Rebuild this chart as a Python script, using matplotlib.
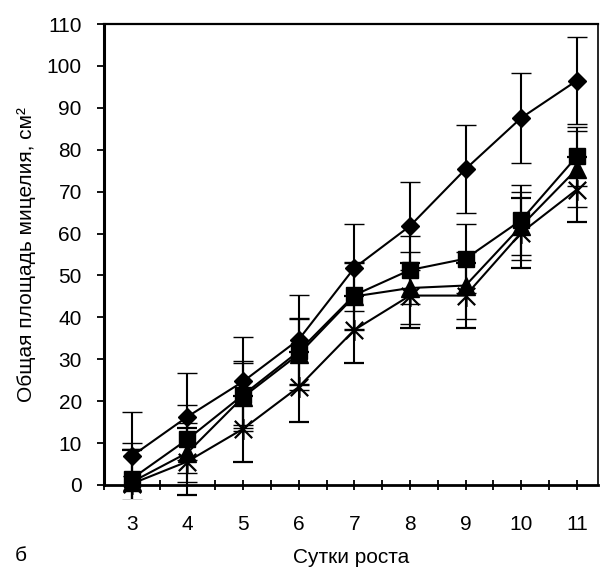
import numpy as np
import matplotlib.pyplot as plt
from matplotlib.path import Path
from matplotlib.patches import Rectangle

plt.rcParams['font.family'] = ['Liberation Sans', 'DejaVu Sans']

days = [3, 4, 5, 6, 7, 8, 9, 10, 11]

romb = [6.9, 16.3, 24.7, 34.7, 51.8, 61.8, 75.4, 87.6, 96.5]
romb_err = [10.4, 10.4, 10.5, 10.6, 10.4, 10.4, 10.5, 10.8, 10.4]

kvadrat = [1.5, 10.9, 21.5, 31.9, 45.3, 51.3, 54.0, 63.2, 78.4]
kvadrat_err = [8.5, 8.1, 8.0, 8.0, 8.0, 8.1, 8.2, 8.4, 7.0]

treug = [0.7, 7.7, 21.0, 31.2, 45.0, 47.0, 47.6, 61.8, 75.4]
treug_err = [8.0, 7.0, 8.0, 8.5, 8.0, 8.5, 8.0, 8.2, 9.0]

zvezda = [0.3, 5.6, 13.4, 23.4, 37.0, 45.2, 45.2, 60.2, 70.5]
zvezda_err = [8.0, 8.0, 7.8, 8.3, 8.0, 7.8, 7.8, 8.4, 7.8]

# excel-like "star" marker: X with a vertical stroke
star = Path([(-1, -1), (1, 1), (-1, 1), (1, -1), (0, -1.2), (0, 1.2)],
            [Path.MOVETO, Path.LINETO, Path.MOVETO, Path.LINETO, Path.MOVETO, Path.LINETO])

fig = plt.figure(figsize=(6.03, 5.74), dpi=100)
ax = fig.add_axes([104/603, 1-485/574, (598-104)/603, (485-24)/574])

# plot area a bit taller than the axes at the bottom (error bars go under 0)
clip = Rectangle((-0.05, -0.031), 1.1, 1.2, transform=ax.transAxes,
                 fill=False, visible=False)
ax.add_patch(clip)

series = [
    (romb, romb_err, dict(marker='D', ms=9.5)),
    (kvadrat, kvadrat_err, dict(marker='s', ms=11)),
    (treug, treug_err, dict(marker='^', ms=13)),
    (zvezda, zvezda_err, dict(marker=star, ms=15, mew=1.6, mfc='none')),
]
for vals, err, st in series:
    cont = ax.errorbar(days, vals, yerr=err, color='black', lw=1.5, elinewidth=1.5,
                       capsize=7, capthick=1.5, mfc=st.get('mfc', 'black'), mec='black',
                       marker=st['marker'], ms=st['ms'], mew=st.get('mew', 1),
                       zorder=3)
    for art in cont.lines[1] + cont.lines[2] + (cont.lines[0],):
        art.set_clip_path(clip)

ax.set_xlim(2.52, 11.38)
ax.set_ylim(0, 110)
ax.set_yticks(np.arange(0, 111, 10))
ax.set_xticks(days)
ax.set_xticks(np.arange(2.5, 11.4, 0.5), minor=True)
ax.tick_params(axis='x', which='both', direction='inout', length=7, width=1.3,
               pad=18, labelsize=15)
ax.tick_params(axis='y', direction='out', length=5, width=1.3, pad=11, labelsize=15)

ax.spines['left'].set_linewidth(2.2)
ax.spines['bottom'].set_linewidth(2.0)
ax.spines['top'].set_linewidth(1.6)
ax.spines['right'].set_linewidth(1.2)

ax.set_xlabel('Сутки роста', fontsize=15, labelpad=10)
ax.set_ylabel('Общая площадь мицелия, см²', fontsize=15, labelpad=8)
fig.text(0.025, 0.022, 'б', fontsize=15)

fig.savefig('out.png', dpi=100)
